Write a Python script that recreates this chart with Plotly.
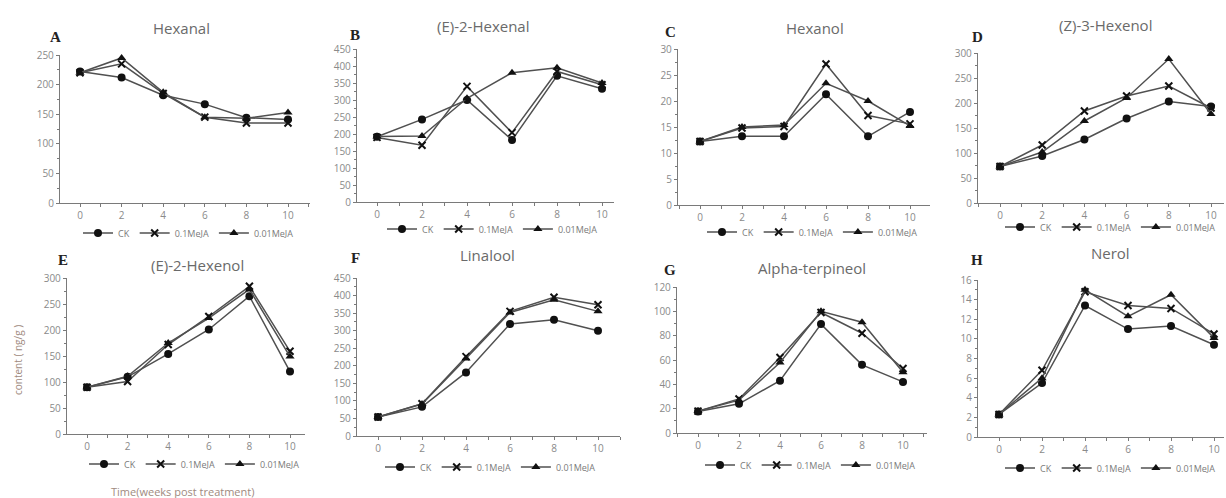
import plotly.graph_objects as go

W, H = 1226, 498

weeks = [0, 2, 4, 6, 8, 10]
series_names = ["CK", "0.1MeJA", "0.01MeJA"]
panel_letters = ["A", "B", "C", "D", "E", "F", "G", "H"]
panel_titles = ["Hexanal", "(E)-2-Hexenal", "Hexanol", "(Z)-3-Hexenol",
                "(E)-2-Hexenol", "Linalool", "Alpha-terpineol", "Nerol"]

# --- data ---
hexanal_ck = [222, 212, 182, 167, 144, 141]
hexanal_01 = [220, 235, 185, 145, 135, 135]
hexanal_001 = [220, 245, 187, 145, 143, 153]

e2hexenal_ck = [192, 243, 300, 182, 371, 333]
e2hexenal_01 = [190, 167, 340, 204, 384, 345]
e2hexenal_001 = [193, 194, 305, 380, 395, 350]

hexanol_ck = [12.2, 13.2, 13.2, 21.3, 13.2, 17.9]
hexanol_01 = [12.2, 14.8, 15.1, 27.1, 17.2, 15.6]
hexanol_001 = [12.2, 15.0, 15.4, 23.4, 20.0, 15.2]

z3hexenol_ck = [73, 94, 127, 169, 203, 193]
z3hexenol_01 = [73, 116, 184, 214, 234, 190]
z3hexenol_001 = [73, 102, 164, 210, 288, 178]

e2hexenol_ck = [90, 110, 154, 201, 265, 120]
e2hexenol_01 = [90, 101, 172, 226, 284, 159]
e2hexenol_001 = [90, 111, 175, 223, 278, 149]

linalool_ck = [54, 83, 181, 319, 331, 300]
linalool_01 = [54, 92, 226, 355, 395, 374]
linalool_001 = [54, 91, 221, 352, 388, 355]

terpineol_ck = [17.7, 24, 43, 89.5, 56, 42]
terpineol_01 = [18, 28, 62, 99, 82, 53]
terpineol_001 = [18, 27, 58, 100, 91, 50]

nerol_ck = [2.3, 5.5, 13.4, 11.0, 11.3, 9.4]
nerol_01 = [2.3, 6.8, 14.8, 13.4, 13.1, 10.5]
nerol_001 = [2.3, 6.0, 15.0, 12.3, 14.5, 10.1]

panel_data = [
    (hexanal_ck, hexanal_01, hexanal_001),
    (e2hexenal_ck, e2hexenal_01, e2hexenal_001),
    (hexanol_ck, hexanol_01, hexanol_001),
    (z3hexenol_ck, z3hexenol_01, z3hexenol_001),
    (e2hexenol_ck, e2hexenol_01, e2hexenol_001),
    (linalool_ck, linalool_01, linalool_001),
    (terpineol_ck, terpineol_01, terpineol_001),
    (nerol_ck, nerol_01, nerol_001),
]
y_max = [250, 450, 30, 300, 300, 450, 120, 16]
y_dtick = [50, 50, 5, 50, 50, 50, 20, 2]

# --- layout geometry (pixels) ---
# left, x0, x10, end, y0, ytop, title(x,y), letter(x,y), legend(x,y)
geom = [
    (60, 80, 288, 310, 203, 55, (181, 28), (55, 37), (78, 233)),
    (357, 377, 602, 614, 202, 49, (483, 26), (355, 35), (382, 229)),
    (678, 700, 910, 930, 205, 49, (815, 28), (670, 32), (702, 232)),
    (978, 1000, 1211, 1224, 203, 53, (1105, 25), (977, 37), (1000, 227)),
    (67, 87, 290, 305, 434, 278, (197, 265), (63, 260), (84, 464)),
    (357, 378, 598, 620, 436, 278, (487, 255), (355, 258), (380, 467)),
    (677, 698, 903, 927, 433, 287, (812, 268), (670, 270), (700, 465)),
    (978, 999, 1214, 1224, 437, 280, (1110, 253), (977, 260), (1000, 468)),
]

line_color = "#505050"
marker_color = "#111111"
axis_color = "#7a7a7a"
tick_font = dict(family="Open Sans, Arial, sans-serif", size=10, color="#8a8a8a")
symbols = ["circle", "x-thin", "triangle-up"]
msizes = [8, 7, 8]

fig = go.Figure()
annotations = []

for i in range(8):
    left, x0, x10, end, y0, ytop, tpos, lpos, legpos = geom[i]
    unit = (x10 - x0) / 10.0
    xr = [(left - x0) / unit, (end - x0) / unit]
    ax = "" if i == 0 else str(i + 1)
    leg = "legend" if i == 0 else "legend%d" % (i + 1)
    for s in range(3):
        mline = dict(width=2, color=marker_color) if s == 1 else dict(width=0)
        fig.add_trace(go.Scatter(
            x=weeks, y=panel_data[i][s], name=series_names[s],
            mode="lines+markers",
            line=dict(color=line_color, width=1.5),
            marker=dict(symbol=symbols[s], size=msizes[s], color=marker_color, line=mline),
            xaxis="x" + ax, yaxis="y" + ax, legend=leg, cliponaxis=False,
        ))
    fig.update_layout(**{
        "xaxis" + ax: dict(
            domain=[left / W, end / W], range=xr, anchor="y" + ax,
            tickvals=weeks, ticks="outside", ticklen=3, tickcolor=axis_color,
            showline=True, linecolor=axis_color, linewidth=1.3,
            showgrid=False, zeroline=False, tickfont=tick_font,
            minor=dict(dtick=1, tick0=1, ticks="outside", ticklen=3, tickcolor=axis_color),
            automargin=False, fixedrange=True,
        ),
        "yaxis" + ax: dict(
            domain=[1 - y0 / H, 1 - ytop / H], range=[0, y_max[i]], anchor="x" + ax,
            dtick=y_dtick[i], tick0=0, ticks="outside", ticklen=3, tickcolor=axis_color,
            showline=True, linecolor=axis_color, linewidth=1.3,
            showgrid=False, zeroline=False, tickfont=tick_font,
            minor=dict(dtick=y_dtick[i] / 2, tick0=0, ticks="outside", ticklen=2,
                       tickcolor=axis_color),
            automargin=False, fixedrange=True,
        ),
        leg: dict(
            x=legpos[0] / W, y=1 - legpos[1] / H, xanchor="left", yanchor="middle",
            orientation="h", bgcolor="rgba(0,0,0,0)", borderwidth=0,
            font=dict(family="Open Sans, Arial, sans-serif", size=9, color="#7a7a7a"),
            itemwidth=30, tracegroupgap=0,
        ),
    })
    annotations.append(dict(
        text=panel_titles[i], x=tpos[0] / W, y=1 - tpos[1] / H, xref="paper", yref="paper",
        showarrow=False, xanchor="center", yanchor="middle",
        font=dict(family="Open Sans, Arial, sans-serif", size=15, color="#6a6a6a"),
    ))
    annotations.append(dict(
        text="<b>%s</b>" % panel_letters[i], x=lpos[0] / W, y=1 - lpos[1] / H,
        xref="paper", yref="paper", showarrow=False, xanchor="center", yanchor="middle",
        font=dict(family="Liberation Serif, Times New Roman, serif", size=15, color="#222222"),
    ))

annotations.append(dict(
    text="content ( ng/g )", x=18 / W, y=1 - 360 / H, xref="paper", yref="paper",
    showarrow=False, textangle=-90, xanchor="center", yanchor="middle",
    font=dict(family="Open Sans, Arial, sans-serif", size=10, color="#a08a80"),
))
annotations.append(dict(
    text="Time(weeks post treatment)", x=182 / W, y=1 - 491 / H, xref="paper", yref="paper",
    showarrow=False, xanchor="center", yanchor="middle",
    font=dict(family="Open Sans, Arial, sans-serif", size=11, color="#a08a80"),
))

fig.update_layout(
    width=W, height=H, margin=dict(l=0, r=0, t=0, b=0),
    paper_bgcolor="white", plot_bgcolor="white", template="none",
    annotations=annotations, showlegend=True,
)

fig.write_html("out.html", config={"displayModeBar": False})
